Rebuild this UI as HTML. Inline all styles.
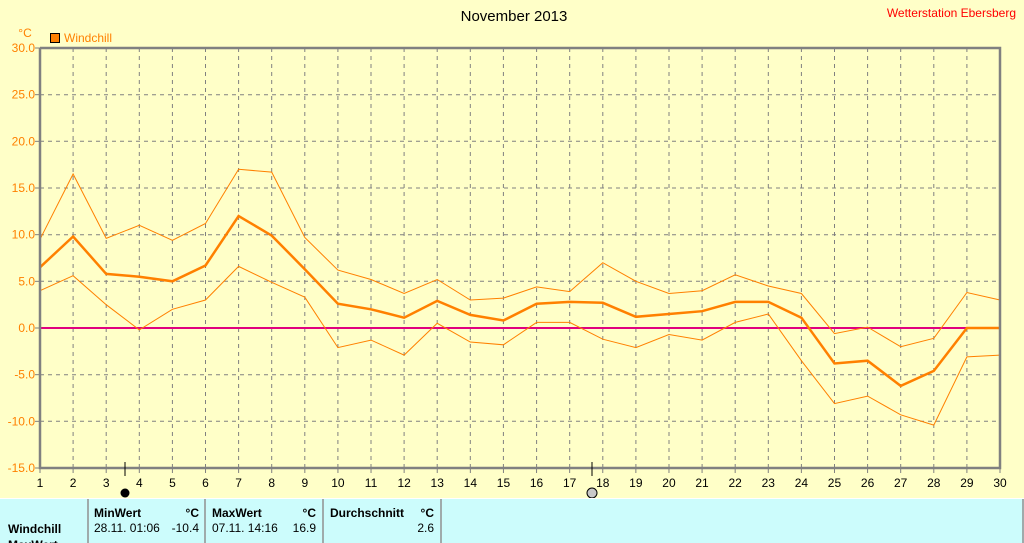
<!DOCTYPE html>
<html><head><meta charset="utf-8"><style>
body{margin:0;width:1024px;height:543px;overflow:hidden;background:#ffffc8;font-family:"Liberation Sans",sans-serif;}
</style></head><body>
<svg id="s" width="1024" height="543" xmlns="http://www.w3.org/2000/svg" style="position:absolute;left:0;top:0">
<rect x="0" y="0" width="1024" height="543" fill="#ffffc8"/>
<text x="514" y="21" font-size="15" text-anchor="middle" fill="#000">November 2013</text>
<text x="1016" y="17" font-size="12" text-anchor="end" fill="#ff0000">Wetterstation Ebersberg</text>
<text x="25" y="37" font-size="12" text-anchor="middle" fill="#ff8000">°C</text>
<rect x="50.5" y="33.5" width="9" height="9" fill="#ff8000" stroke="#000"/>
<text x="64" y="42" font-size="12" fill="#ff8000">Windchill</text>
<g id="g"></g>
<rect x="0" y="498" width="1024" height="45" fill="#ccfcfc"/>
<line x1="0" y1="498.5" x2="1024" y2="498.5" stroke="#fff"/>
<g stroke="#909090" stroke-width="1.5">
<line x1="88" y1="499" x2="88" y2="543"/><line x1="205" y1="499" x2="205" y2="543"/>
<line x1="323" y1="499" x2="323" y2="543"/><line x1="441" y1="499" x2="441" y2="543"/>
<line x1="1023" y1="499" x2="1023" y2="543"/></g>
<g font-size="12" font-weight="bold" fill="#000">
<text x="94" y="517">MinWert</text><text x="199" y="517" text-anchor="end">°C</text>
<text x="212" y="517">MaxWert</text><text x="316" y="517" text-anchor="end">°C</text>
<text x="330" y="517">Durchschnitt</text><text x="434" y="517" text-anchor="end">°C</text>
<text x="8" y="533">Windchill</text><text x="8" y="549">MaxWert</text></g>
<g font-size="12" fill="#000">
<text x="94" y="532">28.11.  01:06</text><text x="199" y="532" text-anchor="end">-10.4</text>
<text x="212" y="532">07.11.  14:16</text><text x="316" y="532" text-anchor="end">16.9</text>
<text x="434" y="532" text-anchor="end">2.6</text></g>
</svg>
<script>
var g=document.getElementById('g'),h='';
function X(d){return 40+(d-1)*960/29;}
function Y(v){return 48+(30-v)*420/45;}
for(var d=2;d<=29;d++){var x=X(d).toFixed(1);h+='<line x1="'+x+'" y1="48" x2="'+x+'" y2="468" stroke="#808080" stroke-dasharray="4,4"/>';}
for(var v=25;v>-15;v-=5){var y=Y(v).toFixed(1);h+='<line x1="40" y1="'+y+'" x2="1000" y2="'+y+'" stroke="#808080" stroke-dasharray="4,4"/>';}
for(var v=30;v>=-15;v-=5){var y=Y(v);h+='<text x="35" y="'+(y+4)+'" font-size="12" text-anchor="end" fill="#ff8000">'+v.toFixed(1)+'</text><line x1="35" y1="'+y+'" x2="40" y2="'+y+'" stroke="#808080"/>';}
for(var d=1;d<=30;d++){var x=X(d);h+='<text x="'+x+'" y="487" font-size="12" text-anchor="middle" fill="#000">'+d+'</text><line x1="'+x+'" y1="468" x2="'+x+'" y2="473" stroke="#808080"/>';}
h+='<line x1="40" y1="328" x2="1000" y2="328" stroke="#e0007f" stroke-width="2"/>';
var up=[9.5,16.5,9.6,11,9.4,11.2,17,16.7,9.7,6.2,5.2,3.7,5.2,3.0,3.2,4.4,3.9,7.0,5.0,3.7,4.0,5.7,4.5,3.7,-0.6,0.1,-2.0,-1.1,3.8,3.0];
var mid=[6.5,9.8,5.8,5.5,5.0,6.7,12.0,9.9,6.3,2.6,2.0,1.1,2.9,1.4,0.8,2.6,2.8,2.7,1.2,1.5,1.8,2.8,2.8,1.1,-3.8,-3.5,-6.2,-4.6,0,0];
var lo=[4.0,5.6,2.5,-0.2,2.0,3.0,6.6,4.9,3.3,-2.1,-1.3,-2.9,0.5,-1.5,-1.8,0.6,0.6,-1.2,-2.1,-0.7,-1.3,0.6,1.5,-3.5,-8.1,-7.3,-9.3,-10.4,-3.1,-2.9];
function P(a,w){var p=a.map(function(v,i){return X(i+1).toFixed(1)+','+Y(v).toFixed(1)}).join(' ');return '<polyline points="'+p+'" fill="none" stroke="#ff8000" stroke-width="'+w+'"/>';}
h+=P(up,1)+P(lo,1)+P(mid,2.5);
h+='<polyline points="40,48 1000,48 1000,468 40,468 40,48" fill="none" stroke="#808080" stroke-width="2.5"/>';
h+='<line x1="125" y1="462" x2="125" y2="476" stroke="#000"/><circle cx="125" cy="493" r="4.5" fill="#000"/>';
h+='<line x1="592" y1="462" x2="592" y2="476" stroke="#000"/><circle cx="592" cy="493" r="5" fill="#c8c8c8" stroke="#000"/>';
g.innerHTML=h;
</script>
</body></html>
